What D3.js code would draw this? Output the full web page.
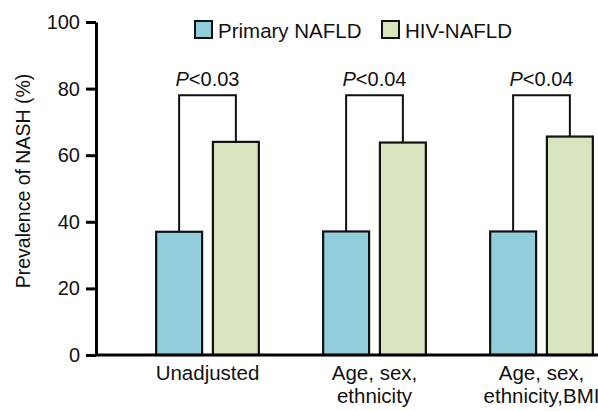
<!DOCTYPE html>
<html>
<head>
<meta charset="utf-8">
<script src="https://cdn.jsdelivr.net/npm/d3@7"></script>
<style>
  body { margin: 0; background: #fff; }
  svg { display: block; font-family: "Liberation Sans", Arial, sans-serif; }
</style>
</head>
<body>
<svg id="chart" width="598" height="411"></svg>
<script>
// data
var categories = ["Unadjusted", "Age, sex,\nethnicity", "Age, sex,\nethnicity,BMI"];
var series = ["Primary NAFLD", "HIV-NAFLD"];
var primary = [37.0, 37.1, 37.1];
var hiv = [64.0, 63.8, 65.6];
var pValues = ["<0.03", "<0.04", "<0.04"];
var bracketLevel = 78;
var yTicks = [0, 20, 40, 60, 80, 100];

var colors = { "Primary NAFLD": "#92cddc", "HIV-NAFLD": "#d7e4bd" };

var svg = d3.select("#chart");
var W = 598;

var y = d3.scaleLinear().domain([0, 100]).range([355, 22]);

var x0 = d3.scaleBand()
  .domain(categories)
  .range([124, 625])
  .paddingInner(0.385)
  .paddingOuter(0.1925);

var x1 = d3.scaleBand()
  .domain(series)
  .range([0, x0.bandwidth()])
  .paddingInner(0.19);

var rows = categories.map(function(c, i) {
  return { cat: c, vals: [primary[i], hiv[i]], p: pValues[i] };
});

// brackets go underneath the bars
svg.append("g").selectAll("path")
  .data(rows).enter().append("path")
  .attr("fill", "none")
  .attr("stroke", "#111")
  .attr("stroke-width", 2)
  .attr("d", function(d) {
    var xa = x0(d.cat) + x1(series[0]) + x1.bandwidth() / 2;
    var xb = x0(d.cat) + x1(series[1]) + x1.bandwidth() / 2;
    return "M" + xa + "," + y(d.vals[0]) + "V" + y(bracketLevel) + "H" + xb + "V" + y(d.vals[1]);
  });

svg.append("g").selectAll("text")
  .data(rows).enter().append("text")
  .attr("x", function(d) { return x0(d.cat) + x0.bandwidth() / 2; })
  .attr("y", y(bracketLevel) - 9)
  .attr("text-anchor", "middle")
  .attr("font-size", 20)
  .attr("fill", "#111")
  .each(function(d) {
    var t = d3.select(this);
    t.append("tspan").attr("font-style", "italic").text("P");
    t.append("tspan").text(d.p);
  });

// bars
var groups = svg.append("g").selectAll("g")
  .data(rows).enter().append("g")
  .attr("transform", function(d) { return "translate(" + x0(d.cat) + ",0)"; });

groups.selectAll("rect")
  .data(function(d) { return d.vals.map(function(v, j) { return { s: series[j], v: v }; }); })
  .enter().append("rect")
  .attr("x", function(d) { return x1(d.s); })
  .attr("y", function(d) { return y(d.v); })
  .attr("width", x1.bandwidth())
  .attr("height", function(d) { return y(0) - y(d.v); })
  .attr("fill", function(d) { return colors[d.s]; })
  .attr("stroke", "#111")
  .attr("stroke-width", 2.2);

// y axis
var yAxis = svg.append("g")
  .attr("transform", "translate(96,0)")
  .call(d3.axisLeft(y).tickValues(yTicks).tickSize(10).tickSizeOuter(0).tickPadding(6));
yAxis.select(".domain").attr("stroke", "#000").attr("stroke-width", 3);
yAxis.selectAll(".tick line").attr("stroke", "#000").attr("stroke-width", 3);
yAxis.selectAll(".tick text")
  .attr("font-size", 20)
  .attr("font-family", "Liberation Sans, Arial, sans-serif")
  .attr("fill", "#111");

// x axis (baseline runs to the right edge)
svg.append("line")
  .attr("x1", 96).attr("x2", W)
  .attr("y1", y(0)).attr("y2", y(0))
  .attr("stroke", "#000").attr("stroke-width", 3);

var xAxis = svg.append("g")
  .attr("transform", "translate(0," + y(0) + ")")
  .call(d3.axisBottom(x0).tickSize(0).tickFormat(""));
xAxis.select(".domain").remove();
xAxis.selectAll(".tick").append("text")
  .attr("text-anchor", "middle")
  .attr("font-size", 20.5)
  .attr("fill", "#111")
  .each(function(d) {
    var t = d3.select(this);
    d.split("\n").forEach(function(line, k) {
      t.append("tspan").attr("x", 0).attr("y", 25 + k * 23).text(line);
    });
  });

// y title
svg.append("text")
  .attr("transform", "translate(30,181) rotate(-90)")
  .attr("text-anchor", "middle")
  .attr("font-size", 19.5)
  .attr("fill", "#111")
  .text("Prevalence of NASH (%)");

// legend
var legendX = [195, 382];
var legend = svg.append("g").selectAll("g")
  .data(series).enter().append("g")
  .attr("transform", function(d, i) { return "translate(" + legendX[i] + ",21)"; });
legend.append("rect")
  .attr("width", 17).attr("height", 17)
  .attr("fill", function(d) { return colors[d]; })
  .attr("stroke", "#111").attr("stroke-width", 2);
legend.append("text")
  .attr("x", 23).attr("y", 17)
  .attr("font-size", 20.5)
  .attr("fill", "#111")
  .text(function(d) { return d; });
</script>
</body>
</html>
